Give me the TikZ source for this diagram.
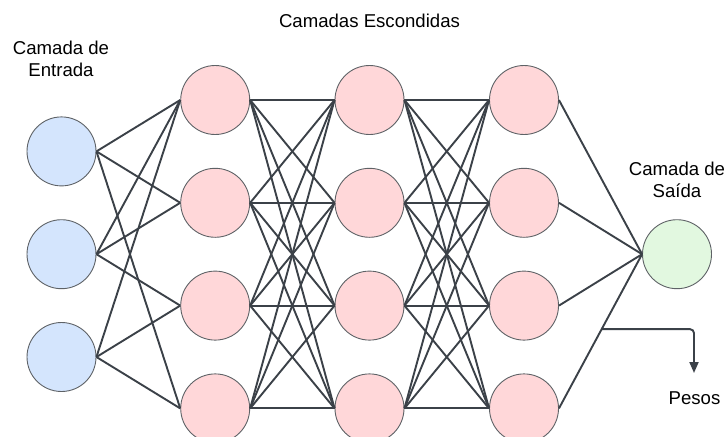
\documentclass[tikz,border=0pt]{standalone}
\usepackage{fontspec}
\setmainfont{Liberation Sans}
\usetikzlibrary{arrows.meta,calc}

\definecolor{edgecol}{HTML}{3B4148}
\definecolor{rimcol}{HTML}{5E6266}
\definecolor{infill}{HTML}{D4E5FD}
\definecolor{hidfill}{HTML}{FFD7D9}
\definecolor{outfill}{HTML}{E2F8E0}

\tikzset{
  neuron/.style={circle, draw=rimcol, line width=0.9pt, minimum size=69pt, inner sep=0pt},
  inneuron/.style={neuron, fill=infill},
  hidneuron/.style={neuron, fill=hidfill},
  outneuron/.style={neuron, fill=outfill},
  link/.style={draw=edgecol, line width=1.9pt},
  label/.style={font=\fontsize{18.6}{22}\selectfont, inner sep=0pt, align=center, anchor=base},
}

\begin{document}
\begin{tikzpicture}[x=1pt, y=-1pt]
\useasboundingbox (0,0) rectangle (727,436);

% input layer
\foreach \i/\y in {1/151.4, 2/254.2, 3/357.0}
  \node[inneuron] (in\i) at (61.5,\y) {};

% hidden layers
\foreach \c/\x in {1/215.2, 2/369.5, 3/524}
  \foreach \r/\y in {1/100, 2/202.8, 3/305.6, 4/408.4}
    \node[hidneuron] (h\c\r) at (\x,\y) {};

% output layer
\node[outneuron] (out) at (677,254.2) {};

% input -> first hidden layer
\foreach \a/\b in {1/1, 1/2, 1/4, 2/1, 2/2, 2/3, 3/1, 3/3, 3/4}
  \draw[link] (in\a.east) -- (h1\b.west);

% hidden -> hidden, fully connected
\foreach \a in {1,...,4}
  \foreach \b in {1,...,4} {
    \draw[link] (h1\a.east) -- (h2\b.west);
    \draw[link] (h2\a.east) -- (h3\b.west);
  }

% last hidden layer -> output
\foreach \a in {1,...,4}
  \draw[link] (h3\a.east) -- (out.west);

% weights pointer
\coordinate (wsrc) at ($(h34.east)!0.514!(out.west)$);
\coordinate (wtip) at (694,373);
\draw[link, rounded corners=4pt, -{Triangle[width=9pt,length=11pt]}] (wsrc) -| (wtip);

% labels (multi-line nodes sit on the baseline of their last line)
\node[label] (ttlhid) at (369.5,28) {Camadas Escondidas};
\node[label] (ttlin) at (61,76) {Camada de\\Entrada};
\node[label] (ttlout) at (677,197) {Camada de\\Saída};
\node[label] (ttlw) at (694.5,404) {Pesos};
\end{tikzpicture}
\end{document}
